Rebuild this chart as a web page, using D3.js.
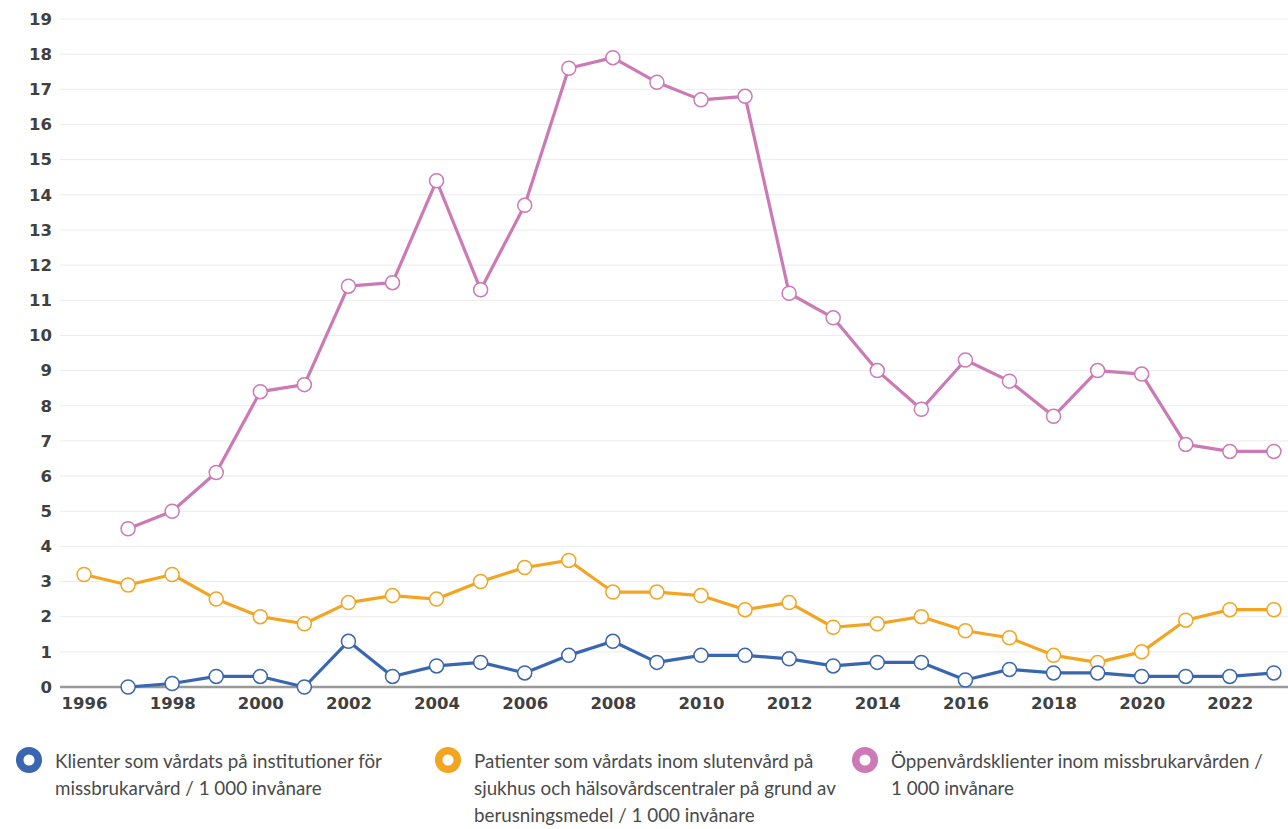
<!DOCTYPE html>
<html lang="sv">
<head>
<meta charset="UTF-8">
<title>Missbrukarvård</title>
<script src="https://cdn.jsdelivr.net/npm/d3@7"></script>
<style>
  body { margin: 0; background: #fff; }
</style>
</head>
<body>
<svg width="1288" height="829"></svg>
<script>
  // data
  const years = d3.range(1996, 2024);
  const klienter = [null, 0.0, 0.1, 0.3, 0.3, 0.0, 1.3, 0.3, 0.6, 0.7, 0.4, 0.9, 1.3, 0.7, 0.9, 0.9, 0.8, 0.6, 0.7, 0.7, 0.2, 0.5, 0.4, 0.4, 0.3, 0.3, 0.3, 0.4];
  const patienter = [3.2, 2.9, 3.2, 2.5, 2.0, 1.8, 2.4, 2.6, 2.5, 3.0, 3.4, 3.6, 2.7, 2.7, 2.6, 2.2, 2.4, 1.7, 1.8, 2.0, 1.6, 1.4, 0.9, 0.7, 1.0, 1.9, 2.2, 2.2];
  const oppenvard = [null, 4.5, 5.0, 6.1, 8.4, 8.6, 11.4, 11.5, 14.4, 11.3, 13.7, 17.6, 17.9, 17.2, 16.7, 16.8, 11.2, 10.5, 9.0, 7.9, 9.3, 8.7, 7.7, 9.0, 8.9, 6.9, 6.7, 6.7];
  const yTicks = d3.range(0, 20);
  const xTicks = d3.range(1996, 2024, 2);

  const series = [
    { name: ["Klienter som vårdats på institutioner för", "missbrukarvård / 1 000 invånare"], values: klienter, color: "#3866b0", lx: 29 },
    { name: ["Patienter som vårdats inom slutenvård på", "sjukhus och hälsovårdscentraler på grund av", "berusningsmedel / 1 000 invånare"], values: patienter, color: "#f3a522", lx: 448 },
    { name: ["Öppenvårdsklienter inom missbrukarvården /", "1 000 invånare"], values: oppenvard, color: "#cc79b6", lx: 865 }
  ];

  const svg = d3.select("svg");
  const margin = { left: 60, top: 19, right: 0, bottom: 142 };
  const width = +svg.attr("width");
  const height = +svg.attr("height");

  const x = d3.scaleLinear()
    .domain([1995.455, 2023.32])
    .range([margin.left, width - margin.right]);
  const y = d3.scaleLinear()
    .domain([0, 19])
    .range([height - margin.bottom, margin.top]);

  // gridlines
  svg.append("g")
    .selectAll("line")
    .data(yTicks.filter(d => d > 0))
    .join("line")
    .attr("x1", margin.left)
    .attr("x2", width)
    .attr("y1", d => y(d))
    .attr("y2", d => y(d))
    .attr("stroke", "#ececec")
    .attr("stroke-width", 1);

  // y axis labels
  const yAxis = svg.append("g")
    .attr("transform", "translate(" + margin.left + ",0)")
    .call(d3.axisLeft(y).tickValues(yTicks).tickSize(0).tickPadding(8));
  yAxis.select(".domain").remove();
  yAxis.selectAll("text")
    .attr("font-family", "DejaVu Sans")
    .attr("font-weight", "bold")
    .attr("font-size", "16.5px")
    .attr("fill", "#404040");

  // x axis
  const xAxis = svg.append("g")
    .attr("transform", "translate(0," + y(0) + ")")
    .call(d3.axisBottom(x).tickValues(xTicks).tickFormat(d3.format("d")).tickSize(0).tickPadding(10));
  xAxis.select(".domain").attr("stroke", "#999").attr("stroke-width", 2.5)
    .attr("d", "M" + margin.left + ",0H" + width);
  xAxis.selectAll("text")
    .attr("font-family", "DejaVu Sans")
    .attr("font-weight", "bold")
    .attr("font-size", "16.5px")
    .attr("fill", "#404040");

  const line = d3.line()
    .defined(d => d.v !== null)
    .x(d => x(d.year))
    .y(d => y(d.v));

  // draw back to front: pink, orange, blue
  [series[2], series[1], series[0]].forEach(s => {
    const pts = years.map((yr, i) => ({ year: yr, v: s.values[i] }));
    const g = svg.append("g");
    g.append("path")
      .datum(pts)
      .attr("d", line)
      .attr("fill", "none")
      .attr("stroke", s.color)
      .attr("stroke-width", 3.2)
      .attr("stroke-linejoin", "round");
    g.selectAll("circle")
      .data(pts.filter(d => d.v !== null))
      .join("circle")
      .attr("cx", d => x(d.year))
      .attr("cy", d => y(d.v))
      .attr("r", 7)
      .attr("fill", "#fff")
      .attr("stroke", s.color)
      .attr("stroke-width", 1.5);
  });

  // legend
  const legend = svg.append("g").attr("class", "legend");
  series.forEach(s => {
    const item = legend.append("g");
    item.append("circle")
      .attr("cx", s.lx)
      .attr("cy", 760)
      .attr("r", 9.3)
      .attr("fill", "#fff")
      .attr("stroke", s.color)
      .attr("stroke-width", 7.5);
    const t = item.append("text")
      .attr("x", s.lx + 26)
      .attr("y", 768)
      .attr("font-family", "Lato, 'Open Sans', sans-serif")
      .attr("font-size", "18.8px")
      .attr("fill", "#4a4a4a");
    s.name.forEach((ln, i) => {
      t.append("tspan")
        .attr("x", s.lx + 26)
        .attr("dy", i === 0 ? 0 : 27)
        .text(ln);
    });
  });
</script>
</body>
</html>
